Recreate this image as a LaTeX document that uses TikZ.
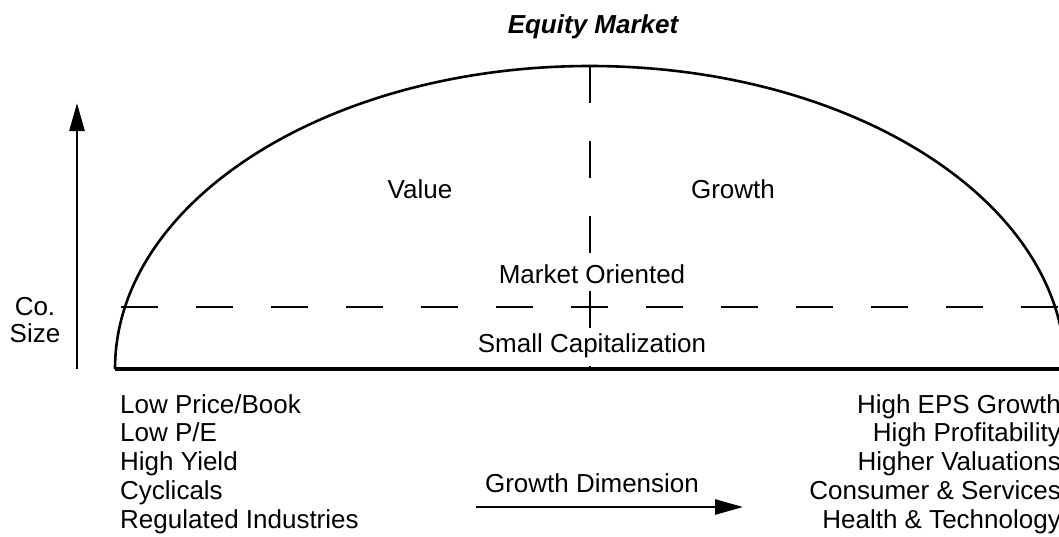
\documentclass[tikz,border=0pt]{standalone}
\usepackage{fontspec}
\setmainfont{Liberation Sans}
\usetikzlibrary{arrows.meta}
\begin{document}
\begin{tikzpicture}[x=1pt,y=-1pt,
  lbl/.style={inner sep=0pt, font=\fontsize{26}{28.75}\selectfont},
  ttl/.style={inner sep=0pt, font=\fontsize{26}{30}\selectfont\bfseries\itshape},
  outline/.style={line width=2.6pt},
  baseline rule/.style={line width=3.8pt},
  dsh/.style={line width=2.6pt, dash pattern=on 37pt off 38pt},
  arr/.style={line width=2.6pt, -{Triangle[length=28pt,width=15pt]}}]
\useasboundingbox (0,0) rectangle (1059,536);
% coordinates
\coordinate (baseW) at (115,369);
\coordinate (baseE) at (1075,369);
\coordinate (topmid) at (590,66);
\coordinate (botmid) at (590,369);
\coordinate (midW) at (121,307);
\coordinate (midE) at (1075,307);
\coordinate (ya0) at (77,369);
\coordinate (ya1) at (77,103);
\coordinate (xa0) at (476,507);
\coordinate (xa1) at (743,507);
% shapes
\draw[outline] (baseW) arc[start angle=180, end angle=0, x radius=475pt, y radius=303pt];
\draw[baseline rule] (baseW) -- (baseE);
\draw[dsh] (midW) -- (midE);
\draw[dsh] (topmid) -- (botmid);
\draw[arr] (ya0) -- (ya1);
\draw[arr] (xa0) -- (xa1);
% texts
\node[ttl, anchor=base] (title) at (593,33) {Equity Market};
\node[lbl, anchor=base] (value) at (420,198) {Value};
\node[lbl, anchor=base] (growth) at (733,198) {Growth};
\node[lbl, anchor=base] (mkt) at (592,283) {Market Oriented};
\node[lbl, anchor=base] (small) at (592,352) {Small Capitalization};
\node[lbl, anchor=base] (gdim) at (592,492) {Growth Dimension};
\node[lbl, font=\fontsize{26}{27}\selectfont, anchor=base] (cosize) at (35,315) {\begin{tabular}[t]{@{}c@{}}Co.\\Size\end{tabular}};
\node[lbl, anchor=base west] (vfeat) at (120,413) {\begin{tabular}[t]{@{}l@{}}Low Price/Book\\Low P/E\\High Yield\\Cyclicals\\Regulated Industries\end{tabular}};
\node[lbl, anchor=base east] (gfeat) at (1061,413) {\begin{tabular}[t]{@{}r@{}}High EPS Growth\\High Profitability\\Higher Valuations\\Consumer \& Services\\Health \& Technology\end{tabular}};
\end{tikzpicture}
\end{document}
